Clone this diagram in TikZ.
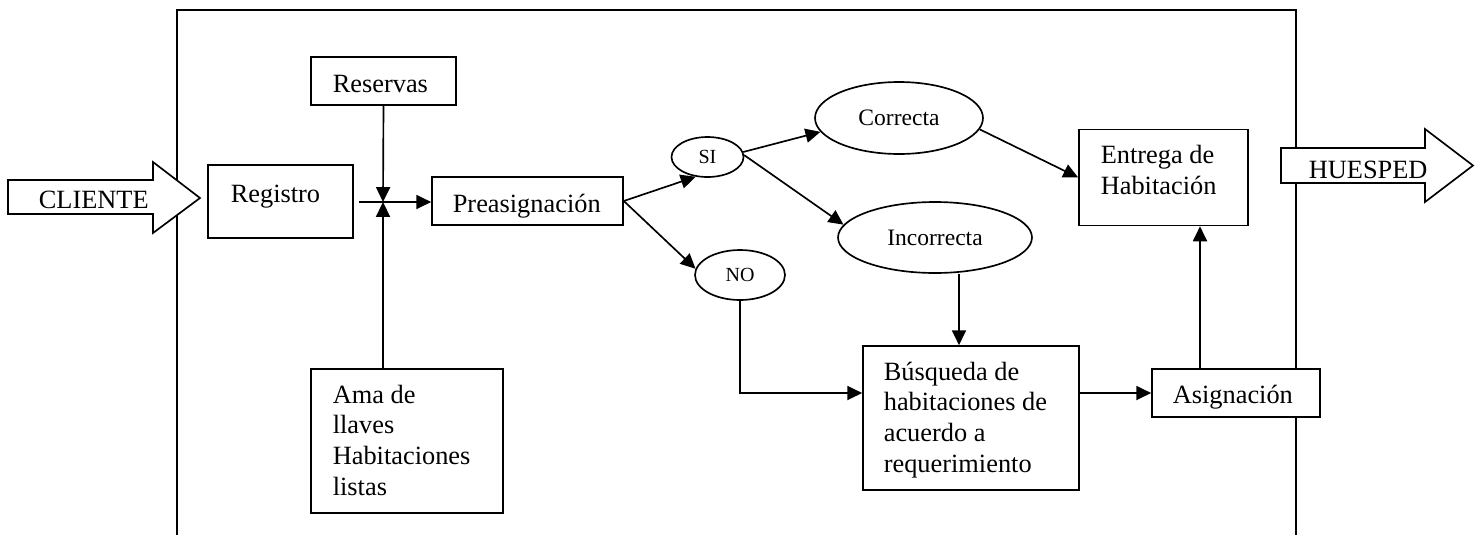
\documentclass[tikz,border=0pt]{standalone}
\usepackage{fontspec}
\setmainfont{Liberation Serif}
\usetikzlibrary{arrows.meta,shapes.geometric,calc}

\begin{document}
\begin{tikzpicture}[x=0.02cm,y=-0.02cm,line width=0.95pt,
  box/.style={draw,fill=white,inner sep=0pt},
  oval/.style={draw,ellipse,fill=white,inner sep=0pt},
  txt/.style={inner sep=0pt,anchor=base west,align=left,font=\fontsize{15}{17.4}\selectfont},
  bigtxt/.style={inner sep=0pt,anchor=base west,font=\fontsize{15}{17.4}\selectfont},
  arr/.style={-{Triangle[length=8.5pt,width=8pt]}},
  bigarrow/.style={draw,fill=white,line join=miter}]

\useasboundingbox (0,0) rectangle (1482,535);

% process frame (open at the bottom)
\draw (177,535) -- (177,10) -- (1296,10) -- (1296,535);

% input and output block arrows
\draw[bigarrow] (8,180) -- (153,180) -- (153,162) -- (200,198) -- (153,233) -- (153,214) -- (8,214) -- cycle;
\node[bigtxt] (cliente) at (38,208) {CLIENTE};
\draw[bigarrow] (1281,148) -- (1425,148) -- (1425,129) -- (1473,165.5) -- (1425,202) -- (1425,183) -- (1281,183) -- cycle;
\node[bigtxt] (huesped) at (1308,178) {HUESPED};

% rectangular steps (multi-line texts are placed by the baseline of their last line)
\node[box,minimum width=2.9cm,minimum height=1.46cm] (reg) at (280.5,201.5) {};
\node[txt] (regt) at (230,202) {Registro};
\node[box,minimum width=2.9cm,minimum height=0.96cm] (res) at (383.5,81) {};
\node[txt] (rest) at (332,92) {Reservas};
\node[box,minimum width=3.82cm,minimum height=0.96cm] (pre) at (527.5,201) {};
\node[txt] (pret) at (452,212) {Preasignación};
\node[box,minimum width=3.84cm,minimum height=2.88cm] (ama) at (407,441) {};
\node[txt] (amat) at (332,495) {Ama de\\llaves\\Habitaciones\\listas};
\node[box,minimum width=4.32cm,minimum height=2.88cm] (bus) at (971,418) {};
\node[txt] (bust) at (883,472) {Búsqueda de\\habitaciones de\\acuerdo a\\requerimiento};
\node[box,minimum width=3.36cm,minimum height=0.96cm] (asi) at (1236,393) {};
\node[txt] (asit) at (1172,403) {Asignación};
\node[box,minimum width=3.38cm,minimum height=1.92cm] (ent) at (1163.5,177.5) {};
\node[txt] (entt) at (1100,194) {Entrega de\\Habitación};

% decision ovals
\node[oval,minimum width=1.44cm,minimum height=0.8cm,font=\fontsize{11.4}{13}\selectfont] (si) at (707.5,157) {SI};
\node[oval,minimum width=1.8cm,minimum height=1.0cm,font=\fontsize{11.4}{13}\selectfont] (no) at (740,275) {NO};
\node[oval,minimum width=3.36cm,minimum height=1.44cm,font=\fontsize{13.4}{16}\selectfont] (cor) at (899,118) {Correcta};
\node[oval,minimum width=3.88cm,minimum height=1.42cm,font=\fontsize{13.4}{16}\selectfont] (inc) at (935,237.5) {Incorrecta};

% helper points
\coordinate (jn) at (383,202);
\coordinate (incdrop) at (959,0);
\coordinate (asirise) at (1200,0);

% connectors
\draw[arr] (res.south) -- (jn);
\draw[arr] (jn |- ama.north) -- (jn);
\draw[arr,shorten <=0.1cm] (reg.east |- jn) -- (pre.west |- jn);
\draw[arr] (pre.east) -- (si.239);
\draw[arr] (pre.east) -- (no.172);
\draw[arr] (si.8) -- (cor.190);
\draw[arr] (si.3) -- (inc.172);
\draw[arr] (cor.-8) -- (ent.west);
\draw[arr] (incdrop |- inc.south) -- (incdrop |- bus.north);
\draw[arr] (no.south) |- (bus.west |- asi.west);
\draw[arr] (bus.east |- asi.west) -- (asi.west);
\draw[arr] (asirise |- asi.north) -- (asirise |- ent.south);
\end{tikzpicture}
\end{document}
